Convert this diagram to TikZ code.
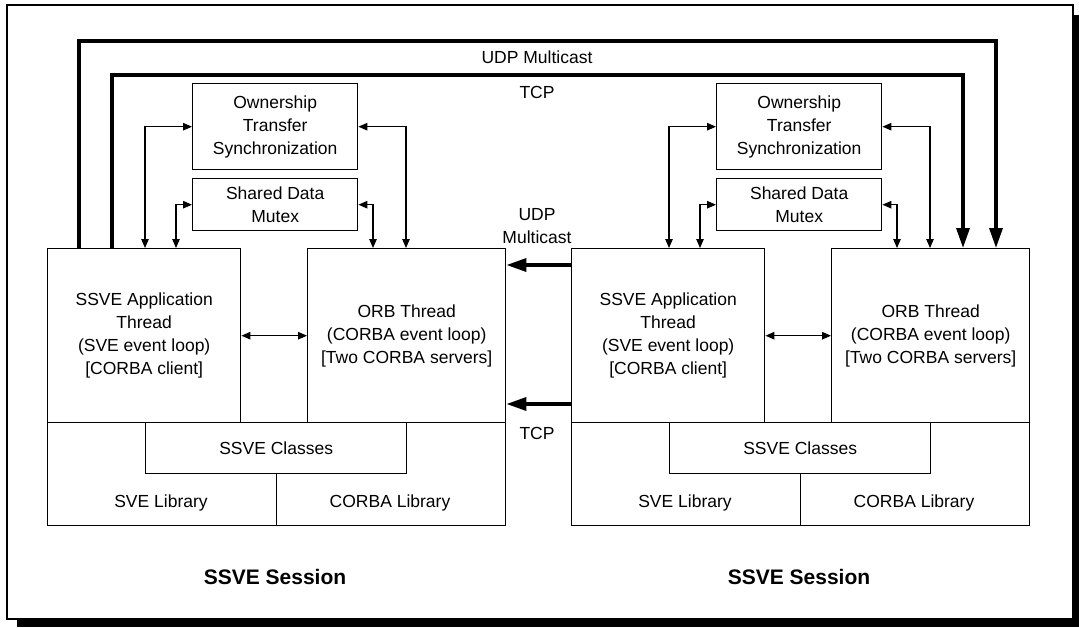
\documentclass[tikz,border=0pt]{standalone}
\usepackage{fontspec}
\setmainfont{Liberation Sans}
\usetikzlibrary{arrows.meta}

\tikzset{
  blk/.style={draw, line width=1.4pt, inner sep=0pt, align=center, anchor=north west,
              font=\fontsize{17.5}{23}\selectfont},
  lbl/.style={inner sep=0pt, align=center, font=\fontsize{17.5}{22.5}\selectfont},
  sess/.style={inner sep=0pt, font=\fontsize{21}{25}\selectfont\bfseries},
  dbl/.style={line width=1.1pt,
              {Triangle[length=9pt,width=7.5pt]}-{Triangle[length=9pt,width=7.5pt]}},
  net/.style={line width=3.4pt},
  netarr/.style={line width=3.4pt, -{Triangle[length=20pt,width=13pt]}},
}

\begin{document}
\begin{tikzpicture}[x=1pt,y=-1pt]
\useasboundingbox (0,0) rectangle (1079,627);

% outer frame with drop shadow
\draw[line width=1.2pt] (7,5) rectangle (1073,619);
\fill (1073,15) rectangle (1079,627);
\fill (17,619) rectangle (1079,627);

% ---------- left session ----------
\node[blk, minimum width=193pt, minimum height=174pt] (Lapp) at (47,248)
  {SSVE Application\\Thread\\(SVE event loop)\\{}[CORBA client]};
\node[blk, minimum width=198pt, minimum height=174pt] (Lorb) at (307,248)
  {ORB Thread\\(CORBA event loop)\\{}[Two CORBA servers]};
\node[blk, minimum width=458pt, minimum height=103pt] (Llib) at (47,422) {};
\node[blk, minimum width=261pt, minimum height=51pt] (Lcls) at (145,422) {SSVE Classes};
\draw[line width=1.4pt] (Lcls.south) -- (Lcls.south |- Llib.south);
\node[lbl] (Lsve) at (161,503) {SVE Library};
\node[lbl] (Lcorba) at (390,503) {CORBA Library};
\node[blk, minimum width=165pt, minimum height=86pt] (Lown) at (192,83)
  {Ownership\\Transfer\\Synchronization};
\node[blk, minimum width=165pt, minimum height=52pt] (Lshr) at (192,178)
  {Shared Data\\Mutex};
\node[sess] (Lsess) at (275,577) {SSVE Session};

\draw[dbl] (Lown.west) -| ([xshift=98pt]Lapp.north west);
\draw[dbl] (Lshr.west) -| ([xshift=129pt]Lapp.north west);
\draw[dbl] (Lown.east) -| ([xshift=99pt]Lorb.north west);
\draw[dbl] (Lshr.east) -| ([xshift=66pt]Lorb.north west);
\draw[dbl] (Lapp.east) -- (Lorb.west);

% ---------- right session ----------
\node[blk, minimum width=193pt, minimum height=174pt] (Rapp) at (571,248)
  {SSVE Application\\Thread\\(SVE event loop)\\{}[CORBA client]};
\node[blk, minimum width=198pt, minimum height=174pt] (Rorb) at (831,248)
  {ORB Thread\\(CORBA event loop)\\{}[Two CORBA servers]};
\node[blk, minimum width=458pt, minimum height=103pt] (Rlib) at (571,422) {};
\node[blk, minimum width=261pt, minimum height=51pt] (Rcls) at (669,422) {SSVE Classes};
\draw[line width=1.4pt] (Rcls.south) -- (Rcls.south |- Rlib.south);
\node[lbl] (Rsve) at (685,503) {SVE Library};
\node[lbl] (Rcorba) at (914,503) {CORBA Library};
\node[blk, minimum width=165pt, minimum height=86pt] (Rown) at (716,83)
  {Ownership\\Transfer\\Synchronization};
\node[blk, minimum width=165pt, minimum height=52pt] (Rshr) at (716,178)
  {Shared Data\\Mutex};
\node[sess] (Rsess) at (799,577) {SSVE Session};

\draw[dbl] (Rown.west) -| ([xshift=98pt]Rapp.north west);
\draw[dbl] (Rshr.west) -| ([xshift=129pt]Rapp.north west);
\draw[dbl] (Rown.east) -| ([xshift=99pt]Rorb.north west);
\draw[dbl] (Rshr.east) -| ([xshift=66pt]Rorb.north west);
\draw[dbl] (Rapp.east) -- (Rorb.west);

% ---------- links between the sessions ----------
\coordinate (udpy) at (0,41);
\coordinate (tcpy) at (0,75);
\coordinate (Ludp) at ([xshift=32pt]Lapp.north west);
\coordinate (Ltcp) at ([xshift=65pt]Lapp.north west);
\coordinate (Rudp) at ([xshift=165pt]Rorb.north west);
\coordinate (Rtcp) at ([xshift=132pt]Rorb.north west);

\draw[netarr] (Ludp) -- (Ludp |- udpy) -- (Rudp |- udpy) -- (Rudp);
\draw[netarr] (Ltcp) -- (Ltcp |- tcpy) -- (Rtcp |- tcpy) -- (Rtcp);
\node[lbl] (udplbl) at (537,57) {UDP Multicast};
\node[lbl] (tcplbl) at (537,92) {TCP};

\coordinate (mudp) at ([yshift=-17pt]Rapp.north west);
\coordinate (mtcp) at ([yshift=-156pt]Rapp.north west);
\draw[netarr] (mudp) -- (mudp -| Lorb.east);
\draw[netarr] (mtcp) -- (mtcp -| Lorb.east);
\node[lbl] (mudplbl) at (537,226) {UDP\\Multicast};
\node[lbl] (mtcplbl) at (537,433) {TCP};
\end{tikzpicture}
\end{document}
